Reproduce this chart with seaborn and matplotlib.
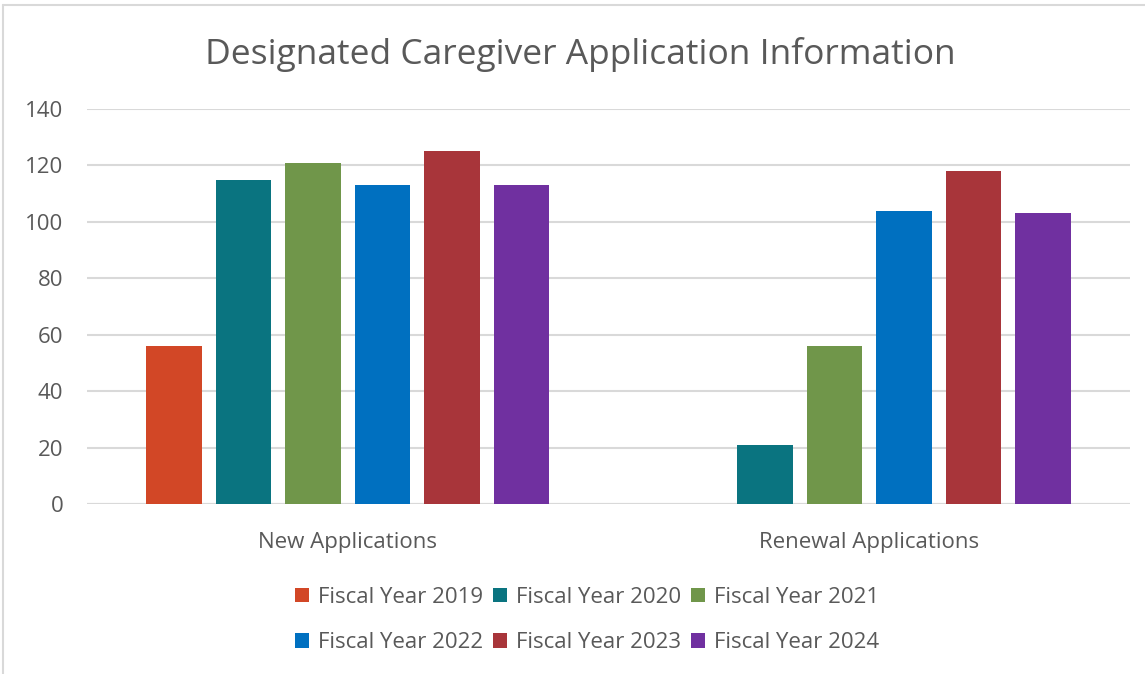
import pandas as pd
import matplotlib.pyplot as plt
import seaborn as sns

# Values
categories = ['New Applications', 'Renewal Applications']
years = ['Fiscal Year 2019', 'Fiscal Year 2020', 'Fiscal Year 2021',
         'Fiscal Year 2022', 'Fiscal Year 2023', 'Fiscal Year 2024']
new_apps = [56, 115, 121, 113, 125, 113]
renewal_apps = [0, 21, 56, 104, 118, 103]
colors = ['#D24726', '#0A7480', '#70964A', '#0070C0', '#A8353A', '#7030A0']

df = pd.DataFrame({
    'Category': [categories[0]] * len(years) + [categories[1]] * len(years),
    'Year': years * 2,
    'Count': new_apps + renewal_apps,
})

sns.set_style('white')
plt.rcParams['font.family'] = ['Open Sans', 'DejaVu Sans']
text_color = '#595959'

fig = plt.figure(figsize=(11.45, 6.74), dpi=100)
ax = fig.add_axes([87 / 1145, 1 - 504 / 674, 1043 / 1145, 395 / 674])

sns.barplot(
    data=df, x='Category', y='Count', hue='Year',
    hue_order=years, palette=colors, width=0.8, gap=0.2,
    saturation=1, linewidth=0, ax=ax, legend=True,
)

ax.set_ylim(0, 140)
ax.set_yticks(range(0, 141, 20))
ax.yaxis.grid(True, color='#D9D9D9', linewidth=1.5)
ax.set_axisbelow(True)
ax.set_xlabel('')
ax.set_ylabel('')
for side in ['top', 'right', 'left', 'bottom']:
    ax.spines[side].set_visible(False)
ax.tick_params(axis='y', length=0, pad=17, labelsize=16, labelcolor=text_color)
ax.tick_params(axis='x', length=0, pad=20, labelsize=16, labelcolor=text_color)

# baseline
ax.axhline(0, color='#D9D9D9', linewidth=1.5, zorder=0)

fig.suptitle('Designated Caregiver Application Information',
             x=580 / 1145, y=1 - 55 / 674, va='center',
             fontsize=25.5, color=text_color)

# legend, row-major order in 3 columns
handles, labels = ax.get_legend_handles_labels()
order = [0, 3, 1, 4, 2, 5]
ax.legend_.remove()
fig.legend([handles[i] for i in order], [labels[i] for i in order],
           loc='center', bbox_to_anchor=(587 / 1145, 1 - 620 / 674),
           ncol=3, frameon=False, fontsize=16, labelcolor=text_color,
           handlelength=0.62, handleheight=0.62, handletextpad=0.4,
           columnspacing=0.45, labelspacing=1.1)

# outer chart border (partially visible)
fig.add_artist(plt.Line2D([3 / 1145, 1], [1 - 5 / 674, 1 - 5 / 674],
                          color='#D9D9D9', linewidth=1.5, transform=fig.transFigure))
fig.add_artist(plt.Line2D([3 / 1145, 3 / 1145], [0, 1 - 5 / 674],
                          color='#D9D9D9', linewidth=1.5, transform=fig.transFigure))

fig.savefig('out.png', dpi=100)
